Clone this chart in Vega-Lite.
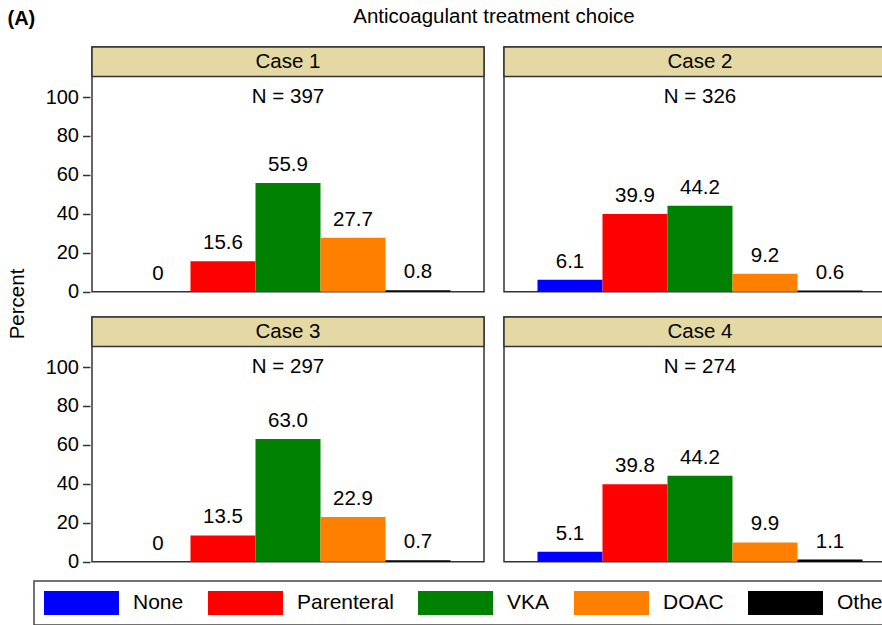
{
  "$schema": "https://vega.github.io/schema/vega-lite/v6.json",
  "padding": {"left": 7, "top": 6, "right": 5, "bottom": 0},
  "title": {"text": "(A)", "anchor": "start", "frame": "bounds", "fontSize": 20, "fontWeight": "bold", "font": "Liberation Sans", "color": "black", "offset": -22},
  "data": {"values": [
    {"case": "Case 1", "n": 397, "treatment": "None", "pct": 0, "label": "0"},
    {"case": "Case 1", "n": 397, "treatment": "Parenteral", "pct": 15.6, "label": "15.6"},
    {"case": "Case 1", "n": 397, "treatment": "VKA", "pct": 55.9, "label": "55.9"},
    {"case": "Case 1", "n": 397, "treatment": "DOAC", "pct": 27.7, "label": "27.7"},
    {"case": "Case 1", "n": 397, "treatment": "Other", "pct": 0.8, "label": "0.8"},
    {"case": "Case 2", "n": 326, "treatment": "None", "pct": 6.1, "label": "6.1"},
    {"case": "Case 2", "n": 326, "treatment": "Parenteral", "pct": 39.9, "label": "39.9"},
    {"case": "Case 2", "n": 326, "treatment": "VKA", "pct": 44.2, "label": "44.2"},
    {"case": "Case 2", "n": 326, "treatment": "DOAC", "pct": 9.2, "label": "9.2"},
    {"case": "Case 2", "n": 326, "treatment": "Other", "pct": 0.6, "label": "0.6"},
    {"case": "Case 3", "n": 297, "treatment": "None", "pct": 0, "label": "0"},
    {"case": "Case 3", "n": 297, "treatment": "Parenteral", "pct": 13.5, "label": "13.5"},
    {"case": "Case 3", "n": 297, "treatment": "VKA", "pct": 63.0, "label": "63.0"},
    {"case": "Case 3", "n": 297, "treatment": "DOAC", "pct": 22.9, "label": "22.9"},
    {"case": "Case 3", "n": 297, "treatment": "Other", "pct": 0.7, "label": "0.7"},
    {"case": "Case 4", "n": 274, "treatment": "None", "pct": 5.1, "label": "5.1"},
    {"case": "Case 4", "n": 274, "treatment": "Parenteral", "pct": 39.8, "label": "39.8"},
    {"case": "Case 4", "n": 274, "treatment": "VKA", "pct": 44.2, "label": "44.2"},
    {"case": "Case 4", "n": 274, "treatment": "DOAC", "pct": 9.9, "label": "9.9"},
    {"case": "Case 4", "n": 274, "treatment": "Other", "pct": 1.1, "label": "1.1"}
  ]},
  "transform": [
    {"calculate": "(datum.case === 'Case 1' || datum.case === 'Case 2') ? 1 : 2", "as": "panelRow"},
    {"calculate": "(datum.case === 'Case 1' || datum.case === 'Case 3') ? 1 : 2", "as": "panelCol"}
  ],
  "facet": {
    "row": {"field": "panelRow", "type": "ordinal", "title": "Percent",
            "header": {"labels": false, "titleFontSize": 20.5, "titleFontWeight": "normal", "titleColor": "black", "titleFont": "Liberation Sans", "titlePadding": 7}},
    "column": {"field": "panelCol", "type": "ordinal", "title": "Anticoagulant treatment choice",
            "header": {"labels": false, "titleFontSize": 20.5, "titleFontWeight": "normal", "titleColor": "black", "titleFont": "Liberation Sans", "titlePadding": 8}}
  },
  "spacing": {"row": 22, "column": 16},
  "spec": {
    "width": 392,
    "height": 244.7,
    "layer": [
      {
        "transform": [{"filter": "datum.treatment === 'None'"}],
        "mark": {"type": "rect", "fill": "#e4d8a4", "stroke": "#333333", "strokeWidth": 1.5},
        "encoding": {
          "y": {"datum": 110.6, "type": "quantitative"},
          "y2": {"datum": 125.7}
        }
      },
      {
        "transform": [{"filter": "datum.treatment === 'None'"}],
        "mark": {"type": "text", "fontSize": 20.5, "baseline": "middle", "color": "black"},
        "encoding": {
          "y": {"datum": 118.15, "type": "quantitative"},
          "text": {"field": "case"}
        }
      },
      {
        "transform": [{"filter": "datum.treatment === 'None'"}, {"calculate": "'N = ' + datum.n", "as": "nlabel"}],
        "mark": {"type": "text", "fontSize": 20.5, "baseline": "middle", "color": "black"},
        "encoding": {
          "y": {"datum": 100, "type": "quantitative"},
          "text": {"field": "nlabel"}
        }
      },
      {
        "mark": {"type": "bar"},
        "encoding": {
          "x": {"field": "treatment", "type": "nominal", "sort": ["None", "Parenteral", "VKA", "DOAC", "Other"], "axis": null,
                "scale": {"paddingInner": 0, "paddingOuter": 0.515}},
          "y": {"field": "pct", "type": "quantitative", "scale": {"domain": [0, 125.7], "nice": false, "zero": true},
                "axis": {"title": null, "values": [0, 20, 40, 60, 80, 100]}},
          "color": {"field": "treatment", "type": "nominal",
                    "sort": ["None", "Parenteral", "VKA", "DOAC", "Other"],
                    "scale": {"domain": ["None", "Parenteral", "VKA", "DOAC", "Other"], "range": ["#0000ff", "#ff0000", "#008000", "#ff8000", "#000000"]}}
        }
      },
      {
        "mark": {"type": "text", "fontSize": 20.5, "baseline": "alphabetic", "dy": -12, "color": "black"},
        "encoding": {
          "x": {"field": "treatment", "type": "nominal", "sort": ["None", "Parenteral", "VKA", "DOAC", "Other"]},
          "y": {"field": "pct", "type": "quantitative"},
          "text": {"field": "label"}
        }
      }
    ]
  },
  "config": {
    "font": "Liberation Sans",
    "view": {"stroke": "#333333", "strokeWidth": 1.5},
    "axisY": {"grid": false, "domain": false, "tickColor": "#333333", "tickSize": 7.5, "tickWidth": 1.5, "labelFontSize": 20, "labelPadding": 4, "labelColor": "black"},
    "legend": {"orient": "none", "legendX": -58, "legendY": 534, "direction": "horizontal", "columns": 5, "title": null,
               "symbolType": "M-3.125,-1H3.125V1H-3.125Z", "symbolSize": 576, "symbolOffset": 25.5, "symbolStrokeWidth": 0, "symbolOpacity": 1,
               "labelFontSize": 21, "labelOffset": 39.5, "columnPadding": 24, "padding": 10, "strokeColor": "#444444", "strokeWidth": 1.5, "fillColor": "white", "labelColor": "black", "labelLimit": 200}
  }
}
